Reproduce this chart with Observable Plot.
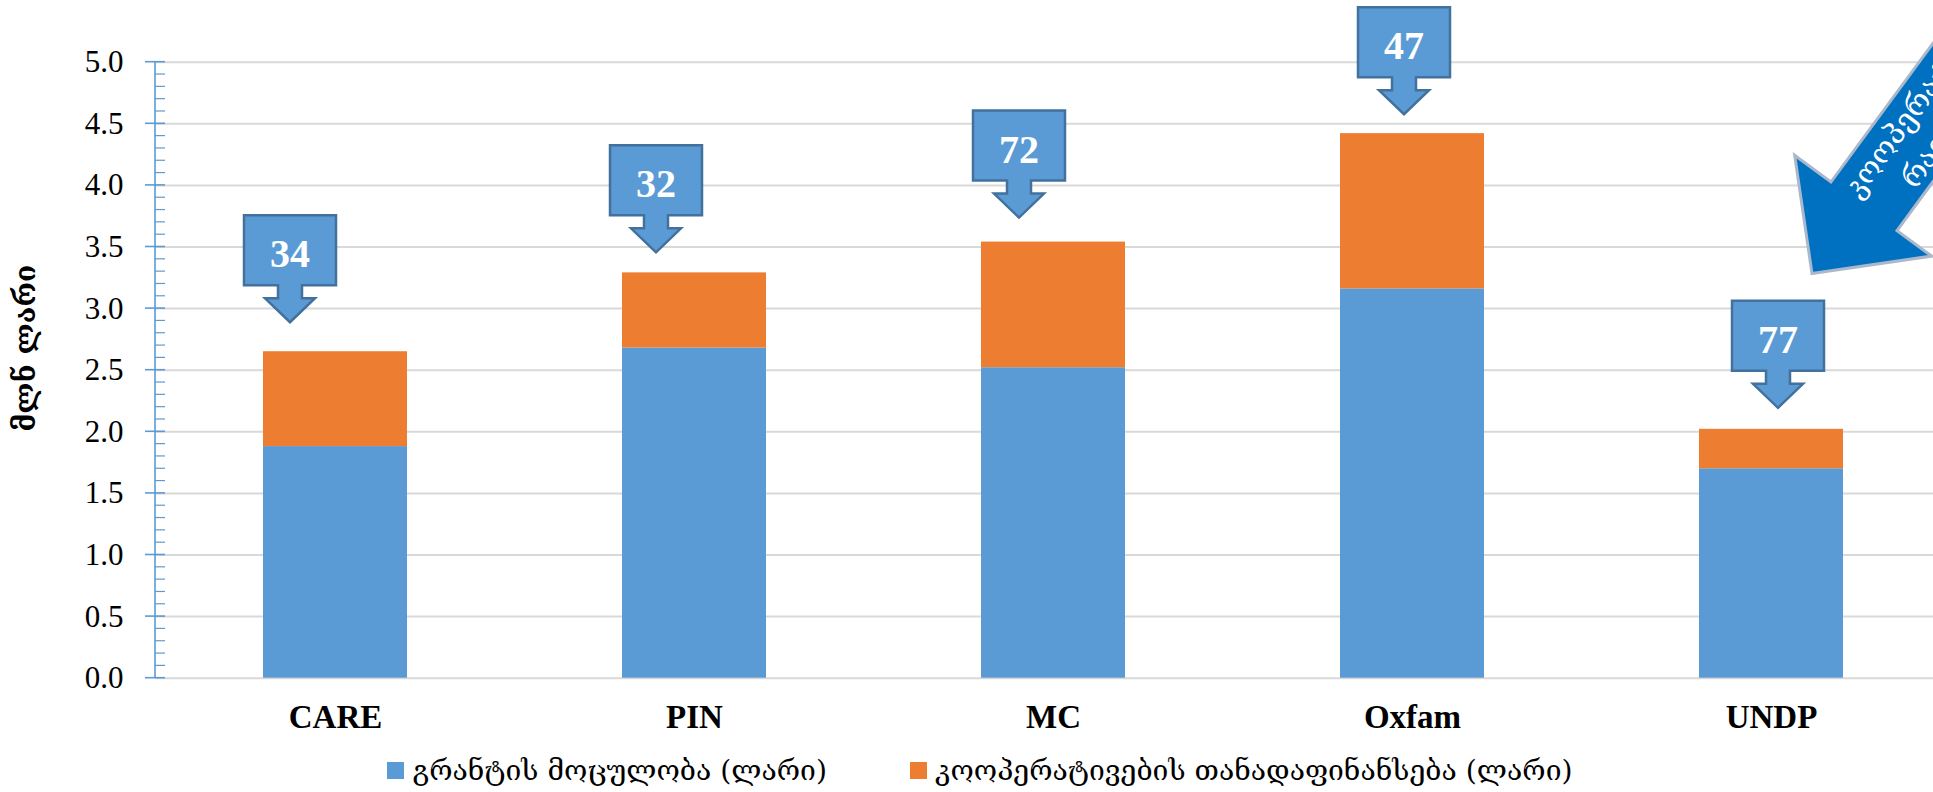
<!DOCTYPE html>
<html><head><meta charset="utf-8">
<script src="https://cdn.jsdelivr.net/npm/d3@7"></script>
<script src="https://cdn.jsdelivr.net/npm/@observablehq/plot@0.6"></script>
<style>
html,body{margin:0;padding:0;background:#fff;overflow:hidden;}
#wrap{position:relative;width:1933px;height:792px;}
#legend{position:absolute;left:0;top:755px;width:1933px;height:30px;display:flex;justify-content:center;align-items:center;gap:83px;padding-left:27px;box-sizing:border-box;font-family:"DejaVu Serif","DejaVu Sans",serif;font-size:28.3px;color:#000;}
.item{display:flex;align-items:center;white-space:nowrap;}
.sw{width:17px;height:17px;margin-right:8px;display:inline-block;}
</style></head>
<body><div id="wrap"><div id="chart"></div><div id="legend"></div></div>
<script>
// ---- data ----
const orgs = ["CARE", "PIN", "MC", "Oxfam", "UNDP"];
const seriesNames = ["გრანტის მოცულობა (ლარი)", "კოოპერატივების თანადაფინანსება (ლარი)"];
const grant = [1.88, 2.68, 2.52, 3.16, 1.70];
const cofin = [0.77, 0.61, 1.02, 1.26, 0.32];
const coopCount = [34, 32, 72, 47, 77];
const yTicks = [0, 0.5, 1.0, 1.5, 2.0, 2.5, 3.0, 3.5, 4.0, 4.5, 5.0];
const yTitle = "მლნ ლარი";
const arrowLines = ["კოოპერატივების", "რაოდენობა"];
const seriesColors = ["#5b9bd5", "#ed7d31"];

// ---- tables ----
const rows = [];
orgs.forEach((o, i) => {
  rows.push({org: o, series: seriesNames[0], value: grant[i]});
  rows.push({org: o, series: seriesNames[1], value: cofin[i]});
});
const totals = orgs.map((o, i) => ({org: o, total: grant[i] + cofin[i], n: coopCount[i]}));
const minorTicks = d3.range(1, 50).map(k => k / 10).filter(v => Math.abs(v * 2 - Math.round(v * 2)) > 1e-6);

// ---- layout / style ----
const W = 1933, H = 752;
const top0 = 61.7, base0 = 677.7;
const left0 = 155, step = 359;
const calloutNudgeX = [-45, -38, -34, -8, 7];   // hand-placed callout offsets (px)
const calloutGap = [29, 20, 24, 19, 21];        // gap between arrow tip and stack top (px)
const SVGNS = "http://www.w3.org/2000/svg";
function el(name, attrs) {
  const e = document.createElementNS(SVGNS, name);
  for (const k in attrs) e.setAttribute(k, attrs[k]);
  return e;
}
function bandOf(x) { return typeof x.bandwidth === "function" ? x.bandwidth() : 0.4 * step; }

// y axis line + ticks (drawn from the y scale)
function axisDecor(index, scales) {
  const g = el("g", {});
  const y = scales.y;
  g.appendChild(el("line", {x1: left0, x2: left0, y1: y(0), y2: y(5), stroke: "#5b9bd5", "stroke-width": 1.6}));
  for (const t of yTicks) g.appendChild(el("line", {x1: left0 - 10, x2: left0 + 10, y1: y(t), y2: y(t), stroke: "#5b9bd5", "stroke-width": 1.6}));
  for (const t of minorTicks) g.appendChild(el("line", {x1: left0, x2: left0 + 10, y1: y(t), y2: y(t), stroke: "#5b9bd5", "stroke-width": 1.2}));
  return g;
}

// callout shapes + counts above each stack
function callouts(index, scales) {
  const g = el("g", {});
  const x = scales.x, y = scales.y;
  const bw = bandOf(x);
  totals.forEach((d, i) => {
    const cx = x(d.org) + bw / 2 + calloutNudgeX[i];
    const tip = y(d.total) - calloutGap[i];
    const bt = tip - 107, bb = tip - 37, ht = tip - 24;
    const p = [[cx - 46, bt], [cx + 46, bt], [cx + 46, bb], [cx + 12, bb], [cx + 12, ht], [cx + 25, ht], [cx, tip],
      [cx - 25, ht], [cx - 12, ht], [cx - 12, bb], [cx - 46, bb]];
    g.appendChild(el("path", {d: "M" + p.map(q => q.join(",")).join("L") + "Z", fill: "#5b9bd5", stroke: "#41719c", "stroke-width": 2.5, "stroke-linejoin": "miter"}));
    const t = el("text", {x: cx, y: tip - 69, "text-anchor": "middle", dy: "0.35em", fill: "#fff", "font-size": 40, "font-weight": "bold", "font-family": "'Liberation Serif', serif"});
    t.textContent = d.n;
    g.appendChild(t);
  });
  return g;
}

// big arrow annotation on the right
function bigArrow(index, scales) {
  const x = scales.x, y = scales.y;
  const bw = bandOf(x);
  const tx = x("UNDP") + bw / 2 + 41, ty = y(3.28);
  const g = el("g", {transform: `translate(${tx},${ty}) rotate(-53.67)`});
  const pts = [[0, 0], [85, 86], [85, 43], [520, 43], [520, -39], [85, -39], [85, -84]];
  g.appendChild(el("path", {d: "M" + pts.map(q => q.join(",")).join("L") + "Z", fill: "#0070c0", stroke: "#a9b8cb", "stroke-width": 3}));
  const ys = [-6, 34];
  arrowLines.forEach((s, i) => {
    const t = el("text", {x: 220, y: ys[i], "text-anchor": "middle", fill: "#fff", "font-size": 30, "font-family": "'DejaVu Serif','DejaVu Sans',serif"});
    t.textContent = s;
    g.appendChild(t);
  });
  return g;
}

const chart = Plot.plot({
  width: W, height: H,
  marginTop: top0, marginBottom: H - base0, marginLeft: left0, marginRight: 0,
  x: {domain: orgs, range: [left0, left0 + 5 * step], paddingInner: 0.6, paddingOuter: 0.3, label: null},
  y: {domain: [0, 5], label: null},
  color: {domain: seriesNames, range: seriesColors},
  style: {fontFamily: "'Liberation Serif', serif", background: "#fff", color: "#000"},
  marks: [
    Plot.ruleY(yTicks, {stroke: "#d9d9d9", strokeWidth: 2}),
    Plot.barY(rows, {x: "org", y: "value", fill: "series"}),
    axisDecor,
    Plot.axisY({ticks: yTicks, tickSize: 0, tickPadding: 32, tickFormat: d3.format(".1f"), fontSize: 31}),
    Plot.axisX({tickSize: 0, tickPadding: 26, fontSize: 33, fontWeight: "bold"}),
    Plot.text([yTitle], {frameAnchor: "left", textAnchor: "middle", lineAnchor: "middle", dx: -129, dy: -22, rotate: -90, fontSize: 28, fontWeight: "bold", fontFamily: "'DejaVu Serif','DejaVu Sans',serif"}),
    callouts,
    bigArrow
  ]
});
document.getElementById("chart").appendChild(chart);

const legend = document.getElementById("legend");
seriesNames.forEach((s, i) => {
  const it = document.createElement("div");
  it.className = "item";
  const sw = document.createElement("span");
  sw.className = "sw";
  sw.style.background = seriesColors[i];
  const tx = document.createElement("span");
  tx.textContent = s;
  it.appendChild(sw); it.appendChild(tx);
  legend.appendChild(it);
});
</script>
</body></html>
